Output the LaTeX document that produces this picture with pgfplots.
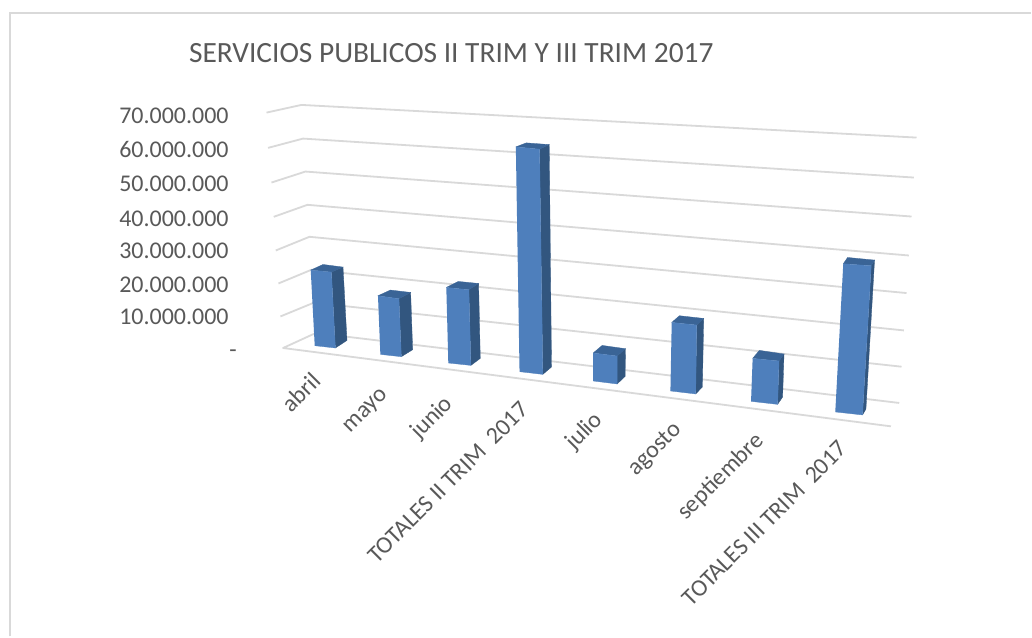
\documentclass[border=0pt]{standalone}
\usepackage{pgfplots}
\pgfplotsset{compat=1.18}
\usepackage{fontspec}
\setmainfont{Carlito}
\definecolor{txt}{HTML}{595959}
\definecolor{gridc}{HTML}{D9D9D9}
\definecolor{frontc}{HTML}{4E7FBC}
\definecolor{sidec}{HTML}{32567F}
\definecolor{topc}{HTML}{3A6496}
\pgfplotsset{
  front/.style={fill=frontc,draw=frontc,line width=0.3pt},
  side/.style={fill=sidec,draw=sidec,line width=0.3pt},
  topf/.style={fill=topc,draw=topc,line width=0.3pt},
  gl/.style={draw=gridc,line width=1.8pt,line join=round},
  frm/.style={draw=gridc,line width=1.8pt},
}
\tikzset{
  vl/.style={anchor=east,text=txt,font=\fontsize{24}{24}\selectfont,inner sep=0pt},
  cl/.style={anchor=east,rotate=45,text=txt,font=\fontsize{24}{24}\selectfont,inner sep=0pt},
}
\begin{document}
\begin{tikzpicture}
\begin{axis}[
  scale only axis,width=1032pt,height=637pt,
  xmin=0,xmax=1032,ymin=0,ymax=637,y dir=reverse,
  axis lines=none,clip=false,
]
% page background, which holds the page at the full size
\addplot[fill=white,draw=none] coordinates {(0,0) (1032,0) (1032,637) (0,637)};
% frame
\addplot[frm] coordinates {(10,637) (10,13) (1032,13)};
% gridlines, from the value axis to the back corner and along the back wall
\addplot[gl] coordinates {(266.7,112.7) (301.7,105) (917.3,137.7)};
\addplot[gl] coordinates {(268.3,148) (303.3,138.7) (914.7,177.7)};
\addplot[gl] coordinates {(271.7,182.7) (305.7,171.7) (912.3,216.7)};
\addplot[gl] coordinates {(274,217) (307.7,205) (909.7,255.7)};
\addplot[gl] coordinates {(276,250.7) (309.7,237) (907.3,293.3)};
\addplot[gl] coordinates {(278.7,283.7) (311.7,270) (904.7,330.7)};
\addplot[gl] coordinates {(280.7,316.7) (314,303) (902.3,367)};
\addplot[gl] coordinates {(891.7,426.7) (283.3,348.3) (316,333.3) (900,403.3)};
% abril
\addplot[side] coordinates {(331.7,272.3) (343.3,267.3) (347.3,340.7) (335.7,348.3)};
\addplot[topf] coordinates {(311,270.3) (323.3,264.7) (343.3,267.3) (331.7,272.3)};
\addplot[front] coordinates {(311,270.3) (331.7,272.3) (335.7,348.3) (315,346)};
% mayo
\addplot[side] coordinates {(399.3,299) (411,292.7) (413,350) (401.7,357)};
\addplot[topf] coordinates {(378.3,296) (390.7,290.3) (411,292.7) (399.3,299)};
\addplot[front] coordinates {(378.3,296) (399.3,299) (401.7,357) (380.7,354.7)};
% junio
\addplot[side] coordinates {(469.3,290) (479,283.7) (480.7,358.7) (471.3,365.7)};
\addplot[topf] coordinates {(446.7,287.7) (458.7,281.7) (479,283.7) (469.3,290)};
\addplot[front] coordinates {(446.7,287.7) (469.3,290) (471.3,365.7) (448.7,363.3)};
% totales II trim
\addplot[side] coordinates {(540,149.3) (549.7,144.7) (552,367.3) (543.3,374.7)};
\addplot[topf] coordinates {(516.3,147) (526.7,143) (549.7,144.7) (540,149.3)};
\addplot[front] coordinates {(516.3,147) (540,149.3) (543.3,374.7) (520,372)};
% julio
\addplot[side] coordinates {(617.7,356.3) (626,349) (625.7,376.7) (617.7,384.3)};
\addplot[topf] coordinates {(593.7,353.3) (602.7,345.7) (626,349) (617.7,356.3)};
\addplot[front] coordinates {(593.7,353.3) (617.7,356.3) (617.7,384.3) (593.7,381.3)};
% agosto
\addplot[side] coordinates {(697.3,325.3) (704.3,318.7) (703,387.3) (696.3,394.3)};
\addplot[topf] coordinates {(672.3,322.7) (680,316) (704.3,318.7) (697.3,325.3)};
\addplot[front] coordinates {(672.3,322.7) (697.3,325.3) (696.3,394.3) (671,391.3)};
% septiembre
\addplot[side] coordinates {(779.7,361.3) (784.7,354.3) (783.3,397.3) (778.3,404.7)};
\addplot[topf] coordinates {(753.3,358.7) (760,350.7) (784.7,354.3) (779.7,361.3)};
\addplot[front] coordinates {(753.3,358.7) (779.7,361.3) (778.3,404.7) (751.7,401.7)};
% totales III trim
\addplot[side] coordinates {(872,266) (875.3,260.3) (866.7,409.3) (863.3,415.3)};
\addplot[topf] coordinates {(844,264) (848.3,257.7) (875.3,260.3) (872,266)};
\addplot[front] coordinates {(844,264) (872,266) (863.3,415.3) (836,412.3)};
% title
\node[anchor=west,text=txt,font=\fontsize{29.4}{29.4}\selectfont,inner sep=0pt] at (axis cs:189,53) {SERVICIOS PUBLICOS II TRIM Y III TRIM 2017};
% value axis labels
\node[vl] at (axis cs:229,115.5) {70.000.000};
\node[vl] at (axis cs:229,149.5) {60.000.000};
\node[vl] at (axis cs:229,183.5) {50.000.000};
\node[vl] at (axis cs:229,218.5) {40.000.000};
\node[vl] at (axis cs:229,251.5) {30.000.000};
\node[vl] at (axis cs:229,285.5) {20.000.000};
\node[vl] at (axis cs:229,317.5) {10.000.000};
\node[vl] at (axis cs:237,354) {-};
% category labels
\node[cl] at (axis cs:317,377) {abril};
\node[cl] at (axis cs:386,393) {mayo};
\node[cl] at (axis cs:450,401) {junio};
\node[cl] at (axis cs:525,406) {TOTALES II TRIM\ \ 2017};
\node[cl] at (axis cs:600,417) {julio};
\node[cl] at (axis cs:679,427) {agosto};
\node[cl] at (axis cs:761,438) {septiembre};
\node[cl] at (axis cs:844,445) {TOTALES III TRIM\ \ 2017};
\end{axis}
\end{tikzpicture}
\end{document}
